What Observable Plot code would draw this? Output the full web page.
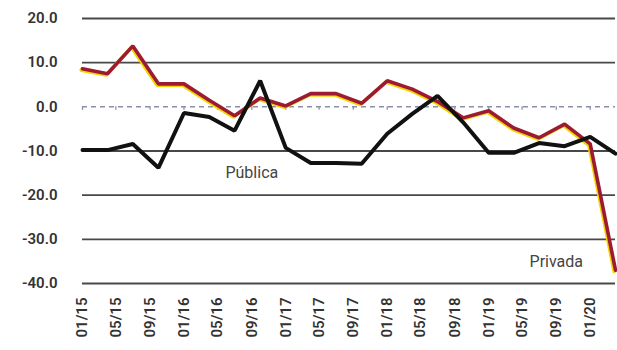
<!DOCTYPE html>
<html><head><meta charset="utf-8">
<script src="https://cdn.jsdelivr.net/npm/d3@7"></script>
<script src="https://cdn.jsdelivr.net/npm/@observablehq/plot@0.6"></script>
<style>
html,body{margin:0;padding:0;background:#fff;}
#chart svg{display:block;}
</style>
</head><body><div id="chart"></div>
<script>
// Quarterly periods (year-month)
const quarters = ["2015-01","2015-04","2015-07","2015-10","2016-01","2016-04","2016-07","2016-10",
  "2017-01","2017-04","2017-07","2017-10","2018-01","2018-04","2018-07","2018-10",
  "2019-01","2019-04","2019-07","2019-10","2020-01","2020-04"];
const privada = [8.6, 7.5, 13.8, 5.2, 5.2, 1.5, -2.0, 2.0, 0.2, 3.0, 3.0, 0.8, 5.9, 4.0, 1.2, -2.5, -0.9, -4.8, -7.0, -3.9, -8.4, -37.0];
const publica = [-9.8, -9.8, -8.4, -13.8, -1.4, -2.3, -5.4, 5.9, -9.3, -12.7, -12.7, -12.9, -6.1, -1.6, 2.5, -3.5, -10.4, -10.4, -8.2, -8.9, -6.8, -10.6];
const tickLabels = ["01/15","05/15","09/15","01/16","05/16","09/16","01/17","05/17","09/17",
  "01/18","05/18","09/18","01/19","05/19","09/19","01/20"];
const yTicks = [20, 10, 0, -10, -20, -30, -40];
const seriesLabels = ["Pública", "Privada"];
const labelPeriods = ["2016-09", "2019-09"];
const labelValues = [-15, -35];

const parse = s => new Date(s + "-01T00:00:00Z");
const parseTick = s => { const [m, y] = s.split("/"); return new Date(Date.UTC(2000 + +y, +m - 1, 1)); };
const tickDates = tickLabels.map(parseTick);
const tickMap = new Map(tickDates.map((d, i) => [+d, tickLabels[i]]));
const rows = quarters.map((q, i) => ({date: parse(q), privada: privada[i], publica: publica[i]}));
const labels = seriesLabels.map((t, i) => ({text: t, date: parse(labelPeriods[i]), value: labelValues[i]}));

const font = "Roboto, 'Noto Sans', sans-serif";
const chart = Plot.plot({
  width: 617, height: 350,
  marginLeft: 82, marginRight: 2, marginTop: 18, marginBottom: 67,
  style: {fontFamily: font, background: "transparent"},
  x: {type: "utc", domain: [parse("2015-01"), parse("2020-04")]},
  y: {domain: [-40, 20]},
  marks: [
    Plot.ruleY(yTicks.filter(v => v !== 0), {stroke: "#484848", strokeWidth: 1.8}),
    Plot.ruleY([0], {stroke: "#8a90a8", strokeWidth: 1.5, strokeDasharray: "5,4"}),
    Plot.ruleX(tickDates, {x: d => d, y1: 0, y2: -0.8, stroke: "#8a90a8", strokeWidth: 1.3}),
    Plot.lineY(rows, {x: "date", y: "privada", stroke: "#f2d400", strokeWidth: 3.6, dx: -1.3, dy: 1.3, strokeLinejoin: "miter"}),
    Plot.lineY(rows, {x: "date", y: "privada", stroke: "#9c1b33", strokeWidth: 3.6, strokeLinejoin: "miter"}),
    Plot.lineY(rows, {x: "date", y: "publica", stroke: "#111", strokeWidth: 4, strokeLinejoin: "miter"}),
    Plot.text(labels, {x: "date", y: "value", text: "text", fontSize: 16, fill: "#444", fontFamily: font}),
    Plot.axisY({ticks: yTicks, tickSize: 0, tickPadding: 25, fontSize: 15, fontWeight: 600, fill: "#333",
      tickFormat: d => d.toFixed(1), label: null}),
    Plot.axisX({ticks: tickDates, tickSize: 0, tickPadding: 14, tickRotate: -90, fontSize: 15, fontWeight: 600,
      fill: "#333", tickFormat: d => tickMap.get(+d), label: null})
  ]
});
document.getElementById("chart").appendChild(chart);
</script>
</body></html>
